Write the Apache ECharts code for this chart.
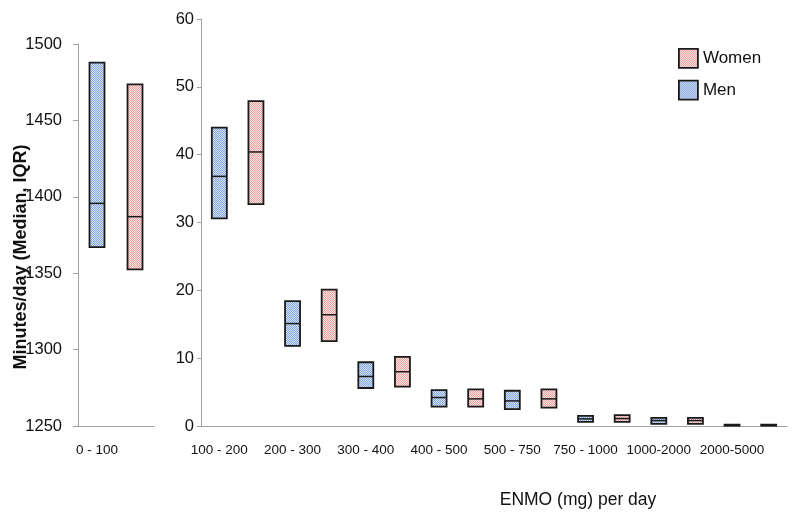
<!DOCTYPE html>
<html>
<head>
<meta charset="utf-8">
<script src="https://cdn.jsdelivr.net/npm/echarts@6/dist/echarts.min.js"></script>
<style>
html,body{margin:0;padding:0;background:#fff;}
#chart{width:800px;height:522px;}
</style>
</head>
<body>
<div id="chart"></div>
<script>
// ---- data ----
const leftCategory = ['0 - 100'];
const leftMen = [1367, 1395.7, 1487.8];      // q1, median, q3
const leftWomen = [1352.5, 1387, 1473.6];

const groups = ['100 - 200','200 - 300','300 - 400','400 - 500','500 - 750','750 - 1000','1000-2000','2000-5000'];
const menQ1  = [30.6, 11.8, 5.6, 2.85, 2.5, 0.6, 0.3, 0.05];
const menMed = [36.8, 15.1, 7.3, 4.2, 3.7, 1.05, 0.8, 0.12];
const menQ3  = [44.0, 18.4, 9.4, 5.3, 5.2, 1.5, 1.2, 0.2];
const womenQ1  = [32.7, 12.5, 5.8, 2.85, 2.7, 0.6, 0.3, 0.05];
const womenMed = [40.4, 16.4, 8.0, 4.0, 4.0, 1.1, 0.8, 0.12];
const womenQ3  = [47.9, 20.1, 10.2, 5.4, 5.4, 1.6, 1.2, 0.2];

const leftTicks = [1250, 1300, 1350, 1400, 1450, 1500];
const rightTicks = [0, 10, 20, 30, 40, 50, 60];

// ---- patterns ----
function makePattern(dark, light){
  const c = document.createElement('canvas');
  c.width = 2; c.height = 2;
  const ctx = c.getContext('2d');
  ctx.fillStyle = light; ctx.fillRect(0,0,2,2);
  ctx.fillStyle = dark; ctx.fillRect(0,0,1,1); ctx.fillRect(1,1,1,1);
  return {image: c, repeat: 'repeat'};
}
const menFill = makePattern('#89aadc', '#cfdef3');
const womenFill = makePattern('#eaa5a5', '#fadfdf');
const edge = '#1a1a1a';

// ---- build axes / series data ----
const rightCats = [];
groups.forEach(g => { rightCats.push('M:' + g); rightCats.push('W:' + g); });
const menRight = groups.map((g, i) => [2*i, menQ1[i], menMed[i], menQ3[i]]);
const womenRight = groups.map((g, i) => [2*i+1, womenQ1[i], womenMed[i], womenQ3[i]]);

function boxRenderer(fill){
  return function(params, api){
    const x = api.value(0);
    const lo = api.coord([x, api.value(1)]);
    const md = api.coord([x, api.value(2)]);
    const hi = api.coord([x, api.value(3)]);
    const w = 15;
    return {
      type: 'group',
      children: [
        {type: 'rect', shape: {x: lo[0]-w/2, y: hi[1], width: w, height: Math.max(lo[1]-hi[1], 1)},
         style: {fill: fill, stroke: edge, lineWidth: 1.8}},
        {type: 'line', shape: {x1: lo[0]-w/2, y1: md[1], x2: lo[0]+w/2, y2: md[1]},
         style: {stroke: edge, lineWidth: 1.5}}
      ]
    };
  };
}

const font = 'Liberation Sans, Arial, sans-serif';
const axisGray = '#a0a0a0';
const plain = v => String(v);

const chart = echarts.init(document.getElementById('chart'), null, {renderer: 'canvas'});
chart.setOption({
  backgroundColor: '#fff',
  animation: false,
  textStyle: {fontFamily: font},
  grid: [
    {left: 78, width: 76, top: 44, height: 382},
    {left: 201, width: 586, top: 19, height: 407}
  ],
  xAxis: [
    {type: 'category', gridIndex: 0, data: ['L:' + leftCategory[0], 'L2:'],
     axisLine: {lineStyle: {color: axisGray}},
     axisTick: {length: 5, lineStyle: {color: axisGray}},
     axisLabel: {interval: 1, margin: 17, fontSize: 13.5, color: '#111', fontFamily: font,
                 formatter: v => v.split(':')[1]}},
    {type: 'category', gridIndex: 1, data: rightCats,
     axisLine: {lineStyle: {color: axisGray}},
     axisTick: {length: 5, lineStyle: {color: axisGray}},
     axisLabel: {interval: 1, margin: 17, fontSize: 13.5, color: '#111', fontFamily: font,
                 formatter: v => v.split(':')[1]}}
  ],
  yAxis: [
    {type: 'value', gridIndex: 0, min: leftTicks[0], max: leftTicks[leftTicks.length-1], interval: 50,
     splitLine: {show: false},
     axisLine: {show: true, lineStyle: {color: axisGray}},
     axisTick: {show: true, length: 5, lineStyle: {color: axisGray}},
     axisLabel: {margin: 16, fontSize: 16.5, color: '#111', fontFamily: font, formatter: plain}},
    {type: 'value', gridIndex: 1, min: rightTicks[0], max: rightTicks[rightTicks.length-1], interval: 10,
     splitLine: {show: false},
     axisLine: {show: true, lineStyle: {color: axisGray}},
     axisTick: {show: true, length: 4, lineStyle: {color: axisGray}},
     axisLabel: {margin: 7, fontSize: 16.5, color: '#111', fontFamily: font, formatter: plain}}
  ],
  legend: {
    orient: 'vertical', left: 678, top: 48, padding: 0,
    itemWidth: 19, itemHeight: 19, itemGap: 11,
    icon: 'rect',
    textStyle: {fontSize: 17, color: '#111', fontFamily: font},
    data: [
      {name: 'Women', itemStyle: {color: womenFill, borderColor: edge, borderWidth: 1.8}},
      {name: 'Men', itemStyle: {color: menFill, borderColor: edge, borderWidth: 1.8}}
    ]
  },
  series: [
    {name: 'Men', type: 'custom', xAxisIndex: 0, yAxisIndex: 0, renderItem: boxRenderer(menFill),
     itemStyle: {color: menFill}, encode: {x: 0, y: [1,2,3]}, data: [[0, leftMen[0], leftMen[1], leftMen[2]]]},
    {name: 'Women', type: 'custom', xAxisIndex: 0, yAxisIndex: 0, renderItem: boxRenderer(womenFill),
     itemStyle: {color: womenFill}, encode: {x: 0, y: [1,2,3]}, data: [[1, leftWomen[0], leftWomen[1], leftWomen[2]]]},
    {name: 'Men', type: 'custom', xAxisIndex: 1, yAxisIndex: 1, renderItem: boxRenderer(menFill),
     itemStyle: {color: menFill}, encode: {x: 0, y: [1,2,3]}, data: menRight},
    {name: 'Women', type: 'custom', xAxisIndex: 1, yAxisIndex: 1, renderItem: boxRenderer(womenFill),
     itemStyle: {color: womenFill}, encode: {x: 0, y: [1,2,3]}, data: womenRight}
  ],
  graphic: [
    {type: 'text', x: 578, y: 500, style: {text: 'ENMO (mg) per day', font: '17.5px ' + font, fill: '#111',
     textAlign: 'center', textVerticalAlign: 'middle'}},
    {type: 'text', x: 21, y: 257, rotation: Math.PI/2,
     style: {text: 'Minutes/day (Median, IQR)', font: 'bold 18px ' + font, fill: '#111',
     textAlign: 'center', textVerticalAlign: 'middle'}}
  ]
});
</script>
</body>
</html>
